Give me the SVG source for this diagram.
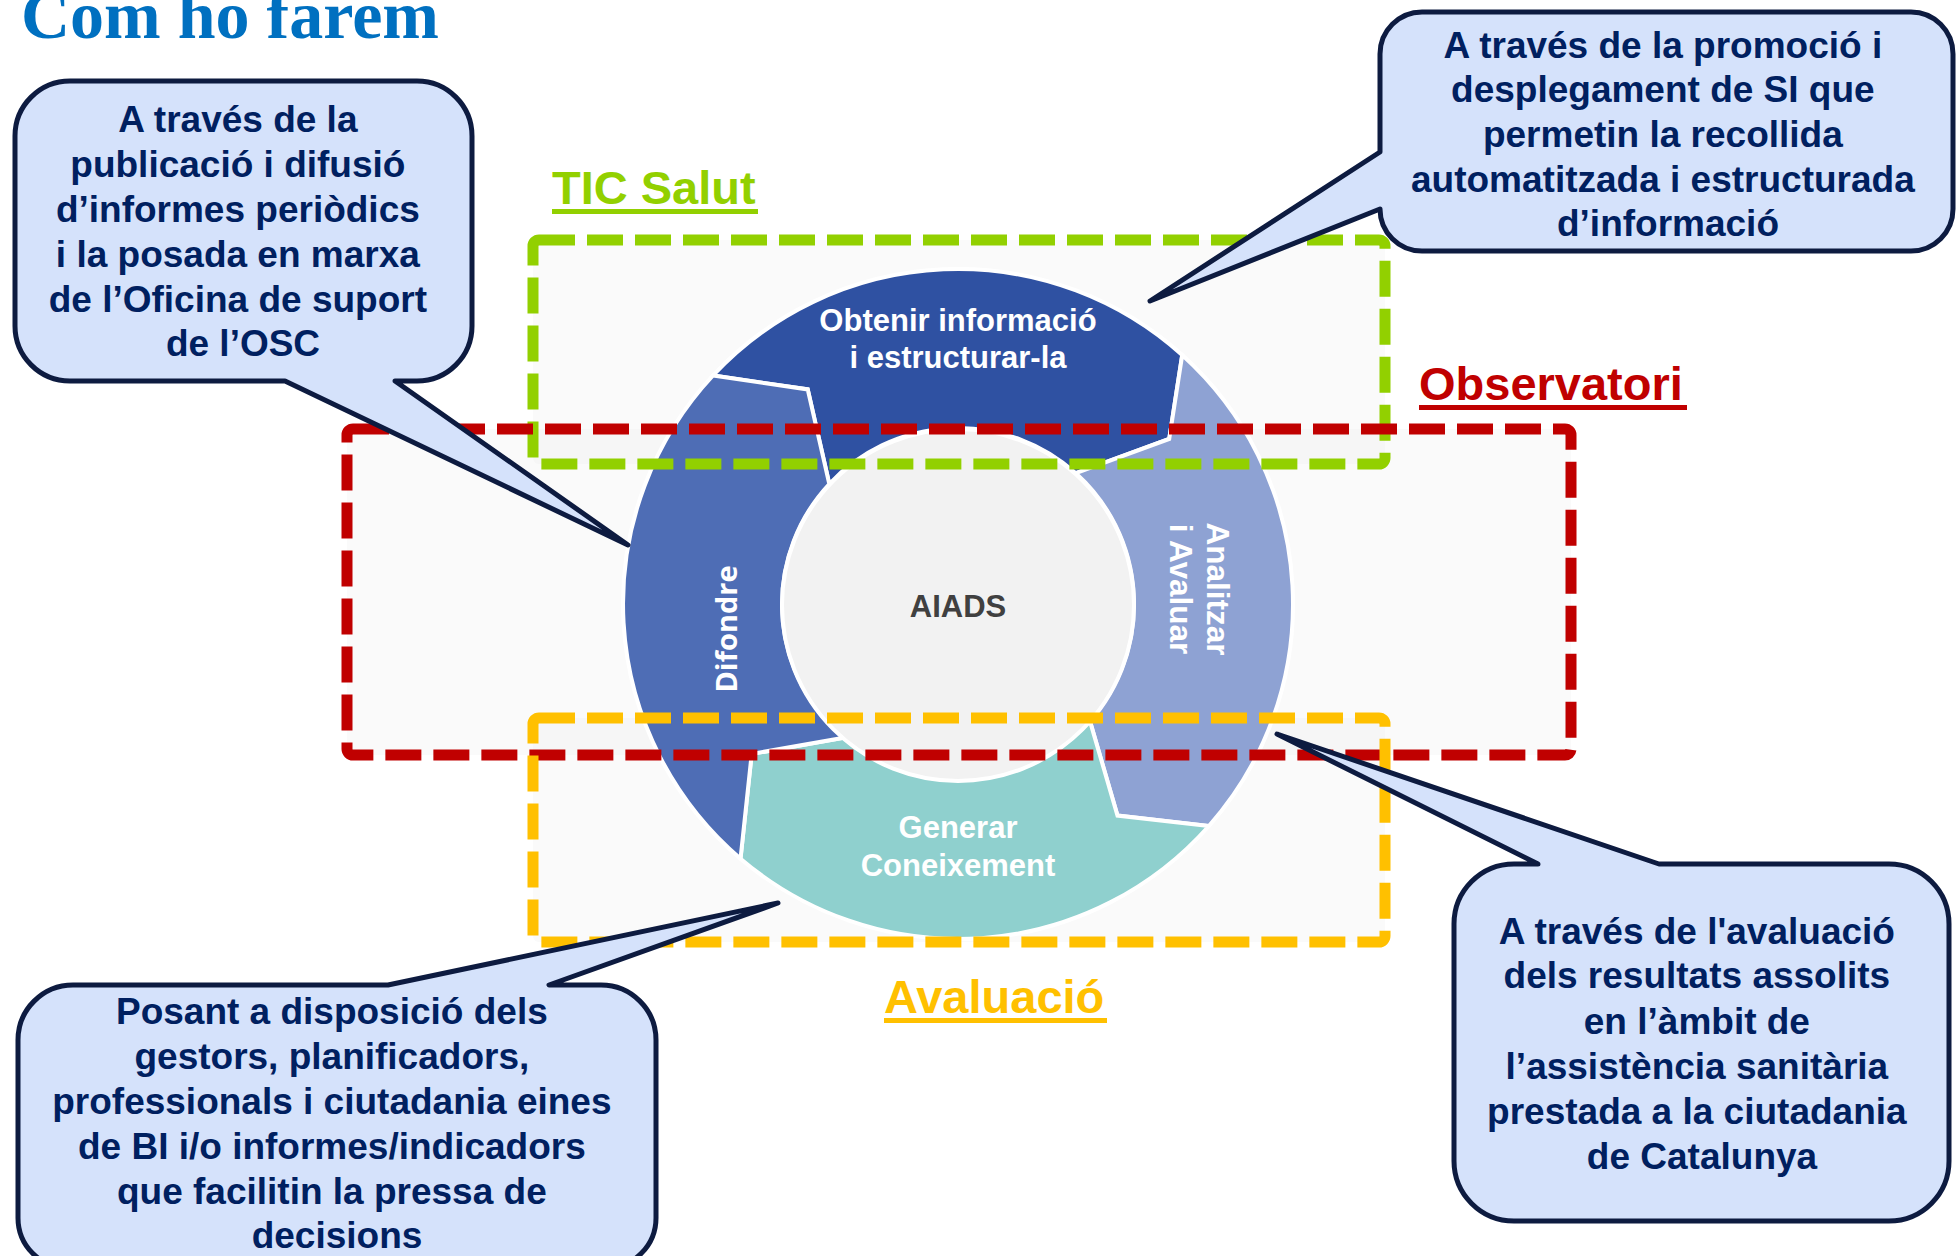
<svg xmlns="http://www.w3.org/2000/svg" width="1957" height="1256" viewBox="0 0 1957 1256">
<defs>
<style>
.bub{fill:#D5E2FB;stroke:#0D1B40;stroke-width:5;stroke-linejoin:round}
.bt{font-family:"Liberation Sans",Arial,sans-serif;font-weight:bold;font-size:37px;fill:#002060;text-anchor:middle}
.box{fill:none;stroke-width:11;stroke-dasharray:36 12}
.boxfill{fill:#E6E6E6;fill-opacity:0.22}
.seg{stroke:#FFFFFF;stroke-width:4;stroke-linejoin:miter}
.st{font-family:"Liberation Sans",Arial,sans-serif;font-weight:bold;fill:#FFFFFF;text-anchor:middle}
.lab{font-family:"Liberation Sans",Arial,sans-serif;font-weight:bold;font-size:47px}
</style>
</defs>
<rect width="1957" height="1256" fill="#FFFFFF"/>

<g id="title">
<text x="21" y="38" font-family="'Liberation Serif','Times New Roman',serif" font-weight="bold" font-size="68" fill="#0070C0">Com ho farem</text>
</g>

<g id="region-fills">
<rect class="boxfill" x="533" y="240" width="852" height="224" rx="6"/>
<rect class="boxfill" x="347" y="429" width="1224" height="326" rx="6"/>
<rect class="boxfill" x="533" y="718" width="852" height="224" rx="6"/>
</g>

<g id="cycle">
<g id="seg-obtenir">
<path class="seg" fill="#2F51A2" d="M713.0,375.5 A335,335 0 0 1 1182.2,355.1 L1169.2,439.0 L1075.8,473.2 A176,176 0 0 0 829.3,484.0 L807.7,389.4 Z"/>
<text class="st" font-size="31"><tspan x="958" y="331">Obtenir informació</tspan><tspan x="958" y="368">i estructurar-la</tspan></text>
</g>
<g id="seg-analitzar">
<path class="seg" fill="#8EA2D3" d="M1182.2,355.1 A335,335 0 0 1 1208.9,826.0 L1117.5,815.6 L1089.8,720.6 A176,176 0 0 0 1075.8,473.2 L1169.2,439.0 Z"/>
<text class="st" font-size="31.5" transform="translate(1207,589) rotate(90)"><tspan x="0" y="0">Analitzar</tspan><tspan x="0" y="37">i Avaluar</tspan></text>
</g>
<g id="seg-generar">
<path class="seg" fill="#8FD0CE" d="M1208.9,826.0 A335,335 0 0 1 740.5,858.7 L751.7,753.9 L843.7,737.8 A176,176 0 0 0 1089.8,720.6 L1117.5,815.6 Z"/>
<text class="st" font-size="31"><tspan x="958" y="838">Generar</tspan><tspan x="958" y="876">Coneixement</tspan></text>
</g>
<g id="seg-difondre">
<path class="seg" fill="#4E6DB5" d="M740.5,858.7 A335,335 0 0 1 713.0,375.5 L807.7,389.4 L829.3,484.0 A176,176 0 0 0 843.7,737.8 L751.7,753.9 Z"/>
<text font-family="'Open Sans','Liberation Sans',sans-serif" font-weight="bold" font-size="29" fill="#FFFFFF" text-anchor="middle" transform="translate(737,629) rotate(-90)" x="0" y="0">Difondre</text>
</g>
<g id="aiads">
<circle cx="958" cy="605" r="176" fill="#F2F2F2" stroke="#FFFFFF" stroke-width="4"/>
<text x="958" y="617" font-family="'Liberation Sans',Arial,sans-serif" font-weight="bold" font-size="31" fill="#404040" text-anchor="middle">AIADS</text>
</g>
</g>

<g id="region-tic">
<rect class="box" x="533" y="240" width="852" height="224" rx="6" stroke="#92D000"/>
</g>
<g id="region-observatori">
<rect class="box" x="347" y="429" width="1224" height="326" rx="6" stroke="#C00000"/>
</g>
<g id="region-avaluacio">
<rect class="box" x="533" y="718" width="852" height="224" rx="6" stroke="#FFC000"/>
</g>

<g id="labels">
<g id="label-tic">
<text class="lab" x="552" y="204" fill="#92D000">TIC Salut</text>
<rect x="552" y="209" width="206" height="5" fill="#92D000"/>
</g>
<g id="label-observatori">
<text class="lab" x="1419" y="400" fill="#C00000">Observatori</text>
<rect x="1419" y="405" width="268" height="5" fill="#C00000"/>
</g>
<g id="label-avaluacio">
<text class="lab" x="884" y="1013" fill="#FFC000">Avaluació</text>
<rect x="884" y="1018" width="223" height="5" fill="#FFC000"/>
</g>
</g>

<g id="connectors"></g>

<g id="bubble-difondre">
<path class="bub" d="M70,81 H417 A55,55 0 0 1 472,136 V326 A55,55 0 0 1 417,381 H395 L628,545 L285,381 H70 A55,55 0 0 1 15,326 V136 A55,55 0 0 1 70,81 Z"/>
<text class="bt">
<tspan x="243" y="132">A través de la</tspan>
<tspan x="243" y="177">publicació i difusió</tspan>
<tspan x="243" y="222">d’informes periòdics</tspan>
<tspan x="243" y="267">i la posada en marxa</tspan>
<tspan x="243" y="312">de l’Oficina de suport</tspan>
<tspan x="243" y="356">de l’OSC</tspan>
</text>
</g>

<g id="bubble-obtenir">
<path class="bub" d="M1422,12 H1911 A42,42 0 0 1 1953,54 V209 A42,42 0 0 1 1911,251 H1422 A42,42 0 0 1 1380,209 L1150,301 L1380,152 V54 A42,42 0 0 1 1422,12 Z"/>
<text class="bt">
<tspan x="1668" y="58">A través de la promoció i</tspan>
<tspan x="1668" y="102">desplegament de SI que</tspan>
<tspan x="1668" y="147">permetin la recollida</tspan>
<tspan x="1668" y="192">automatitzada i estructurada</tspan>
<tspan x="1668" y="236">d’informació</tspan>
</text>
</g>

<g id="bubble-generar">
<path class="bub" d="M73,985 H388 L778,903 L549,985 H601 A55,55 0 0 1 656,1040 V1218 A50,50 0 0 1 606,1268 H68 A50,50 0 0 1 18,1218 V1040 A55,55 0 0 1 73,985 Z"/>
<text class="bt">
<tspan x="337" y="1024">Posant a disposició dels</tspan>
<tspan x="337" y="1069">gestors, planificadors,</tspan>
<tspan x="337" y="1114">professionals i ciutadania eines</tspan>
<tspan x="337" y="1159">de BI i/o informes/indicadors</tspan>
<tspan x="337" y="1204">que facilitin la pressa de</tspan>
<tspan x="337" y="1248">decisions</tspan>
</text>
</g>

<g id="bubble-analitzar">
<path class="bub" d="M1514,864 H1538 L1277,734 L1659,864 H1889 A60,60 0 0 1 1949,924 V1161 A60,60 0 0 1 1889,1221 H1514 A60,60 0 0 1 1454,1161 V924 A60,60 0 0 1 1514,864 Z"/>
<text class="bt">
<tspan x="1702" y="944">A través de l'avaluació</tspan>
<tspan x="1702" y="988">dels resultats assolits</tspan>
<tspan x="1702" y="1034">en l’àmbit de</tspan>
<tspan x="1702" y="1079">l’assistència sanitària</tspan>
<tspan x="1702" y="1124">prestada a la ciutadania</tspan>
<tspan x="1702" y="1169">de Catalunya</tspan>
</text>
</g>
</svg>
